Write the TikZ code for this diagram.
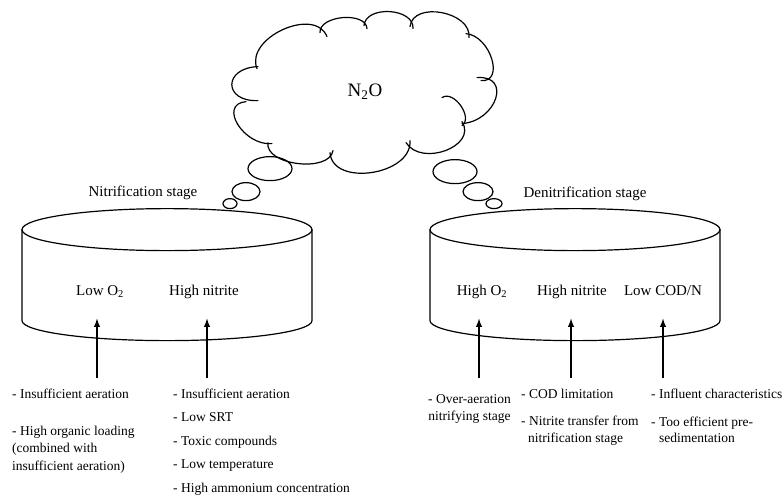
\documentclass[tikz,border=0pt]{standalone}
\usepackage{fontspec}
\setmainfont{Liberation Serif}
\usetikzlibrary{calc, arrows}

\tikzset{
    outline/.style={line width=1.2pt, line cap=round},
    stage/.style={font=\fontsize{15}{18}\selectfont, anchor=base, inner sep=0pt},
    cause/.style={font=\fontsize{13.5}{17.5}\selectfont, anchor=base west, inner sep=0pt, align=left},
    push/.style={line width=1.8pt, -latex},
}

\begin{document}
\begin{tikzpicture}[x=1pt, y=-1pt]
    \fill[white] (0,0) rectangle (784,492);
    % Cloud, one bump at a time: start / peak / end
    \foreach \ax/\ay/\px/\py/\bx/\by in {
        258/100/232/84/258/66, 257/68/283/29/327/36, 320/32/343/17/367/28,
        364/25/390/11/413/28, 410/26/442/12/469/37, 466/33/492/58/481/80,
        477/77/496/98/462/123, 442/97/461/105/462/125, 462/121/446/150/406/142,
        410/140/372/172/330/152, 333/150/298/163/268/142, 272/143/238/124/246/101}
    {
        \draw[outline] (\ax,\ay) .. controls ($0.333*(\ax,\ay)+1.333*(\px,\py)-0.667*(\bx,\by)$)
            and ($0.333*(\bx,\by)+1.333*(\px,\py)-0.667*(\ax,\ay)$) .. (\bx,\by);
    }
    \node[font=\fontsize{19}{22}\selectfont] (gas) at (365,91) {N\textsubscript{2}O};
    % Thought bubbles
    \foreach \cx/\cy/\rx/\ry in {270/168/22/12, 246/191/14/9, 230/203/7/5,
                                 455/171/22/12, 478/191/15/9, 494/203/8/5}
    {
        \draw[outline] (\cx,\cy) ellipse [x radius=\rx, y radius=\ry];
    }
    % Tanks
    \foreach \cx in {167, 575}
    {
        \draw[outline] (\cx,229) ellipse [x radius=145, y radius=21];
        \draw[outline] (\cx-145,229) -- (\cx-145,320) arc [start angle=180, end angle=0, x radius=145, y radius=20] -- (\cx+145,229);
    }
    \node[stage] (nitri) at (143,196) {Nitrification stage};
    \node[stage] (denitri) at (585,197) {Denitrification stage};
    % Conditions in the tanks
    \node[stage] (lowo) at (100,295) {Low O\textsubscript{2}};
    \node[stage] (nitrite1) at (204,295) {High nitrite};
    \node[stage] (higho) at (482,295) {High O\textsubscript{2}};
    \node[stage] (nitrite2) at (572,295) {High nitrite};
    \node[stage] (codn) at (663,295) {Low COD/N};
    % Arrows
    \foreach \x/\n in {97/a, 207/b, 479/c, 571/d, 663/e}
    {
        \coordinate (tail\n) at (\x,377);
        \coordinate (head\n) at (\x,318);
        \draw[push] (tail\n) -- (head\n);
    }
    % Causes, nitrification stage (base = last line)
    \node[cause] (ca1) at (12,397.5) {- Insufficient aeration};
    \node[cause] (ca2) at (12,469.5) {- High organic loading\\(combined with\\insufficient aeration)};
    \node[cause] (cb1) at (173,397.5) {- Insufficient aeration};
    \node[cause] (cb2) at (173,421) {- Low SRT};
    \node[cause] (cb3) at (173,444.5) {- Toxic compounds};
    \node[cause] (cb4) at (173,468) {- Low temperature};
    \node[cause] (cb5) at (173,491.5) {- High ammonium concentration};
    % Causes, denitrification stage
    \node[cause, align=center] (cc1) at (428,420) {- Over-aeration\\nitrifying stage};
    \node[cause] (cd1) at (521,397.5) {- COD limitation};
    \node[cause] (cd2) at (521,442) {- Nitrite transfer from\\\hspace*{7pt}nitrification stage};
    \node[cause] (ce1) at (651,397.5) {- Influent characteristics};
    \node[cause, font=\fontsize{13.5}{16}\selectfont] (ce2) at (651,442) {- Too efficient pre-\\\hspace*{8pt}sedimentation};
\end{tikzpicture}
\end{document}
